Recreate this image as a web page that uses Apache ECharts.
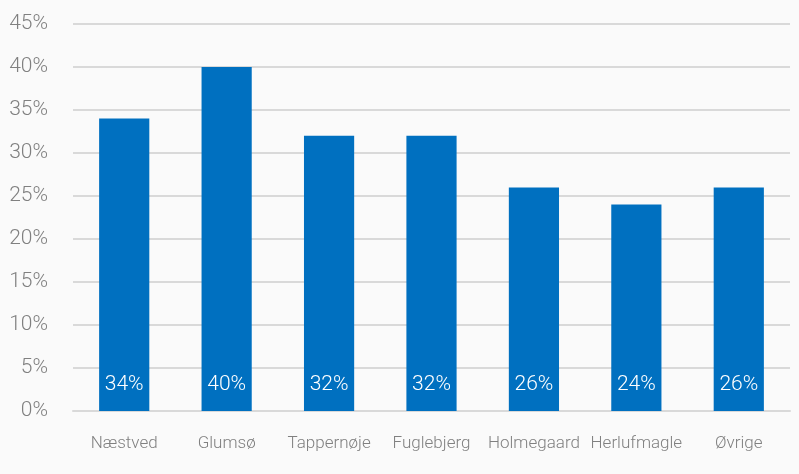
<!DOCTYPE html>
<html>
<head>
<meta charset="utf-8">
<script src="https://cdn.jsdelivr.net/npm/echarts@6/dist/echarts.min.js"></script>
<style>
  html, body { margin: 0; padding: 0; background: #fafafa; }
  #chart { width: 799px; height: 474px; }
</style>
</head>
<body>
<div id="chart"></div>
<script>
// --- data ---
const categories = ['Næstved', 'Glumsø', 'Tappernøje', 'Fuglebjerg', 'Holmegaard', 'Herlufmagle', 'Øvrige'];
const shares = [34, 40, 32, 32, 26, 24, 26];

const font = 'Roboto, sans-serif';
const grey = '#808080';

const chart = echarts.init(document.getElementById('chart'));
chart.setOption({
    backgroundColor: '#fafafa',
    animation: false,
    grid: { left: 73, right: 9, top: 24, bottom: 63 },
    xAxis: {
        type: 'category',
        data: categories,
        axisLine: { lineStyle: { color: '#d9d9d9', width: 2 } },
        axisTick: { show: false },
        axisLabel: { interval: 0, color: grey, fontFamily: font, fontWeight: 300, fontSize: 17, margin: 24 }
    },
    yAxis: {
        type: 'value',
        min: 0, max: 45, interval: 5,
        axisLine: { show: false },
        axisTick: { show: false },
        splitLine: { lineStyle: { color: '#d9d9d9', width: 2 } },
        axisLabel: { color: grey, fontFamily: font, fontWeight: 300, fontSize: 21, margin: 25, formatter: '{value}%' }
    },
    series: [{
        type: 'bar',
        data: shares,
        barWidth: '49%',
        itemStyle: { color: '#0070C0' },
        label: {
            show: true, position: 'insideBottom', distance: 16,
            color: '#ffffff', fontFamily: font, fontWeight: 300, fontSize: 21, formatter: '{c}%'
        }
    }]
});
</script>
</body>
</html>
